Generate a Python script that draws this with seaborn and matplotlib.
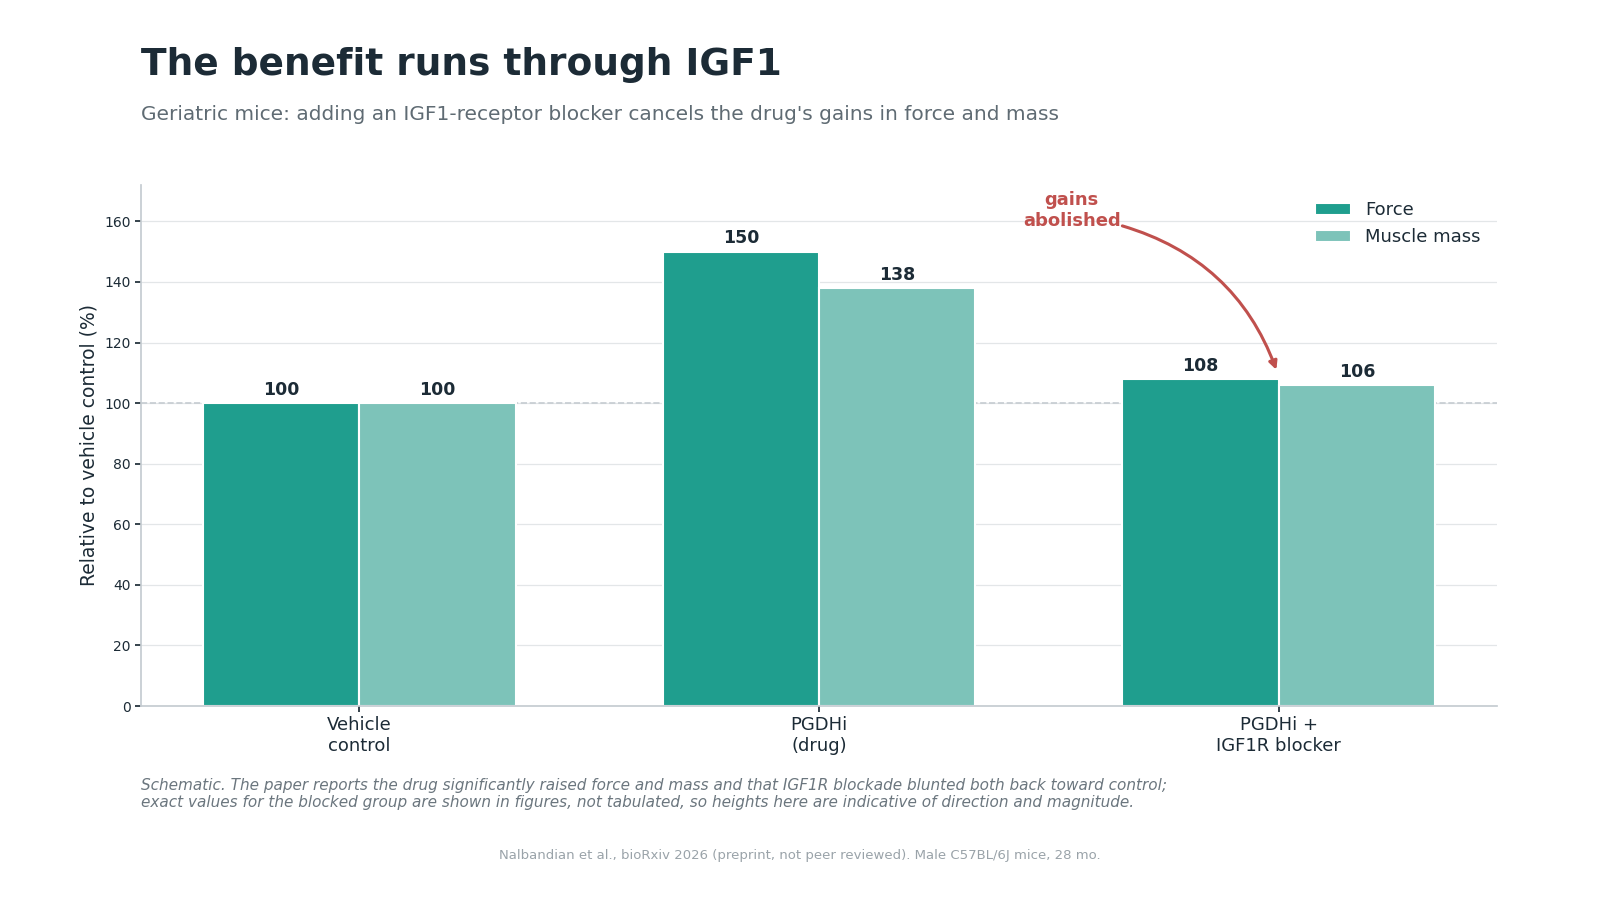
import matplotlib
matplotlib.use("Agg")
import matplotlib.pyplot as plt
import seaborn as sns
import pandas as pd

# data
groups = ["Vehicle\ncontrol", "PGDHi\n(drug)", "PGDHi +\nIGF1R blocker"]
force = [100, 150, 108]
mass = [100, 138, 106]
series = ["Force", "Muscle mass"]

df = pd.DataFrame({
    "group": groups * 2,
    "value": force + mass,
    "series": [series[0]] * 3 + [series[1]] * 3,
})

sns.set_theme(style="white")
plt.rcParams['font.family'] = ['DejaVu Sans']

fig = plt.figure(figsize=(16, 9), dpi=100)
ax = fig.add_axes([141 / 1600, 194 / 900, 1356 / 1600, 521 / 900])

ax.grid(axis="y", color="#e3e6e8", linewidth=0.9, zorder=0)
ax.set_axisbelow(True)
ax.axhline(100, color="#c5ccd1", linestyle="--", linewidth=1.2, zorder=1)

sns.barplot(data=df, x="group", y="value", hue="series", ax=ax,
            palette=["#1f9e8e", "#7dc3b9"], saturation=1, width=0.68,
            edgecolor="white", linewidth=1.5, zorder=2)

for cont in ax.containers:
    ax.bar_label(cont, fmt="%d", padding=3, fontsize=12.5,
                 fontweight="bold", color="#1c2b36")

ax.set_xlim(-0.475, 2.475)
ax.set_ylim(0, 172)
ax.set_yticks(range(0, 161, 20))
ax.tick_params(axis="y", labelsize=10, colors="#1c2b36", left=True, length=4)
ax.tick_params(axis="x", labelsize=13, colors="#1c2b36", bottom=True, length=4)
ax.set_xlabel("")
ax.set_ylabel("Relative to vehicle control (%)", fontsize=13.5, color="#1c2b36")
for s in ["top", "right"]:
    ax.spines[s].set_visible(False)
for s in ["left", "bottom"]:
    ax.spines[s].set_color("#c5ccd1")

leg = ax.legend(loc="upper right", frameon=False, fontsize=13,
                bbox_to_anchor=(1.0, 1.0))
for t in leg.get_texts():
    t.set_color("#1c2b36")

ax.text(1.55, 163.5, "gains\nabolished", ha="center", va="center",
        fontsize=13, fontweight="bold", color="#c0504d")
ax.annotate("", xy=(1.995, 111), xytext=(1.66, 158.5),
            arrowprops=dict(arrowstyle="-|>", color="#c0504d", lw=2.2,
                            shrinkA=0, shrinkB=0,
                            connectionstyle="arc3,rad=-0.25"))

fig.text(141 / 1600, 1 - 65 / 900, "The benefit runs through IGF1",
         fontsize=27, fontweight="bold", color="#1c2b36", va="center")
fig.text(141 / 1600, 1 - 114 / 900,
         "Geriatric mice: adding an IGF1-receptor blocker cancels the drug's gains in force and mass",
         fontsize=14.5, color="#5f6b73", va="center")
fig.text(141 / 1600, 1 - 794 / 900,
         "Schematic. The paper reports the drug significantly raised force and mass and that IGF1R blockade blunted both back toward control;\n"
         "exact values for the blocked group are shown in figures, not tabulated, so heights here are indicative of direction and magnitude.",
         fontsize=11, style="italic", color="#6b767e", va="center")
fig.text(0.5, 1 - 856 / 900,
         "Nalbandian et al., bioRxiv 2026 (preprint, not peer reviewed). Male C57BL/6J mice, 28 mo.",
         fontsize=9.5, color="#9aa3a9", ha="center", va="center")

fig.savefig("out.png", dpi=100)
